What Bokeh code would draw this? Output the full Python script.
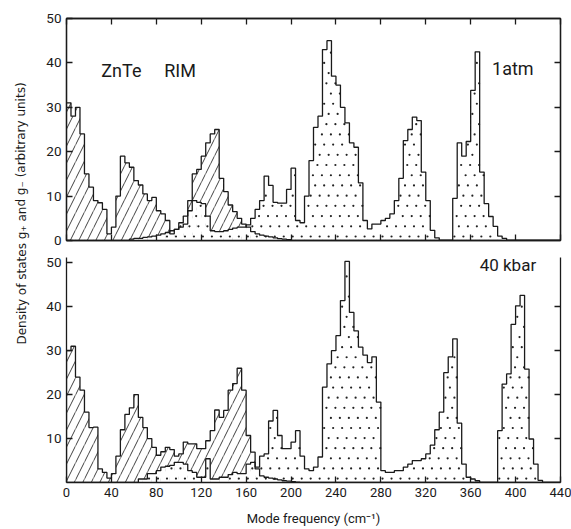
from bokeh.plotting import figure
from bokeh.layouts import row, column
from bokeh.models import Range1d, LinearAxis, FixedTicker, Label
from bokeh.embed import file_html
from bokeh.resources import INLINE

# ---------------- data (histograms, 4 cm^-1 bins from 0 to 440) ----------------
bin_edges = list(range(0, 444, 4))          # 111 edges -> 110 bins
x_ticks = list(range(0, 441, 40))
x_tick_labels = [str(t) for t in x_ticks]
y_ticks_top = [0, 10, 20, 30, 40, 50]
y_ticks_bottom = [10, 20, 30, 40, 50]

# 1 atm : g- (hatched) and g+ (dotted)
gminus_1atm = (
    [31, 28, 30, 24, 15, 12, 9, 8.5, 7, 1.5]
    + [3, 10, 19, 17.5, 16.5, 13.5, 12.5, 10.5, 9, 9.7]
    + [6.7, 6, 4.5, 1.5, 2.5, 3, 3.7, 9, 15, 16]
    + [19, 22, 24, 25, 14, 11, 8, 6.5, 5, 3.7]
    + [3, 2, 1.5, 1.2, 1, 0.8, 0.6, 0.4, 0.3, 0.2]
    + [0] * 60
)
gplus_1atm = (
    [0] * 10
    + [0, 0, 0, 0, 0.3, 0.5, 0.5, 0.7, 0.8, 1]
    + [1.2, 1.5, 1.8, 2.2, 2.5, 4, 5.5, 6.7, 9, 8.6]
    + [8.3, 5.5, 2.2, 2, 2, 2.2, 2.5, 2.8, 3, 3]
    + [3.5, 5, 7, 9, 14.5, 12.4, 8.6, 8.4, 8.4, 11.5]
    + [16.3, 4.5, 4, 10, 18, 25.5, 28, 43, 45, 37]
    + [35, 30, 26.5, 22, 21, 13, 4.5, 2.6, 3.7, 3.7]
    + [4.5, 5, 6, 9, 14, 22.5, 25, 27.8, 27, 15.4]
    + [9, 2.3, 0.6, 0, 0, 0, 9.5, 22, 19, 22.3]
    + [33.8, 42.5, 15.4, 8.3, 5.4, 3.2, 1, 0.5, 0, 0]
    + [0] * 10
)

# 40 kbar : g- (hatched) and g+ (dotted)
gminus_40kbar = (
    [30, 31, 24, 21, 16, 12.5, 12.6, 3.1, 2.3, 1]
    + [2, 6, 12, 15.5, 17, 20, 14.8, 12.5, 10, 8]
    + [6.2, 7, 8, 7.5, 6, 6.5, 9.2, 8.8, 8.8, 7.7]
    + [7.7, 9.5, 11.8, 16.5, 14.8, 16.4, 21, 22.5, 26, 21]
    + [10.7, 6.9, 3.1, 1.5, 1.2, 1, 0.8, 0.6, 0.4, 0.3]
    + [0.2, 0.1] + [0] * 58
)
gplus_40kbar = (
    [0] * 10
    + [0, 0, 0, 0, 0, 0, 0.8, 0.8, 2, 2]
    + [2.7, 3.5, 3.7, 3.9, 4.6, 4.6, 4.2, 2.7, 2.3, 1.2]
    + [1.2, 5.4, 0.8, 0.8, 1.2, 1.2, 1.8, 2.3, 2, 2]
    + [4.2, 4.6, 3.5, 6, 6.5, 14, 16.4, 10.7, 7.7, 7.7]
    + [9.2, 11.8, 6, 3.1, 2.7, 3.5, 5.8, 21.7, 27, 30]
    + [33.4, 41.4, 50.3, 38.7, 34.5, 30.8, 29, 27.3, 28.6, 18.3]
    + [2.7, 2.3, 2.3, 2.7, 2.7, 3.5, 4.2, 5, 5, 5.4]
    + [6.5, 8.5, 12, 16, 25, 28.6, 32.7, 13.5, 4.2, 1.2]
    + [0.8, 0.4, 0, 0, 0, 0, 11.8, 22.4, 24.7, 36]
    + [40.2, 42.6, 25.8, 9.9, 4.2, 0.5, 0, 0, 0, 0]
)

# ---------------- styling ----------------
FONT = "Roboto"
INK = "#1a1a1a"
STIPPLE_DX = 8.0      # stipple spacing along x (cm^-1)
STIPPLE_DY = 2.3      # stipple row spacing (density units)
STIPPLE_SHIFT = [0.0, 4.0, 2.0, 6.0]


def style_axis(ax, label_size="13px"):
    ax.major_tick_in = 6
    ax.major_tick_out = 0
    ax.minor_tick_in = 0
    ax.minor_tick_out = 0
    ax.axis_line_color = INK
    ax.axis_line_width = 1.3
    ax.major_tick_line_color = INK
    ax.major_tick_line_width = 1.3
    ax.major_label_text_font = FONT
    ax.major_label_text_font_size = label_size
    ax.major_label_text_color = INK
    ax.major_label_standoff = 5


def hide_labels(ax):
    # tick marks only: labels are not drawn at all
    ax.major_label_text_color = None
    ax.major_label_text_font_size = "1px"
    ax.major_label_standoff = 0


def blank_axis(ticks):
    ax = LinearAxis(ticker=FixedTicker(ticks=ticks))
    style_axis(ax)
    hide_labels(ax)
    return ax


def stipple_points(vals):
    """Regular staggered stipple inside the area under a histogram."""
    xs, ys = [], []
    r = 0
    y = 0.9
    while y < 52:
        x = 1.5 + STIPPLE_SHIFT[r % 4]
        while x < 440:
            i = int(x // 4)
            if y < vals[i] - 0.6:
                xs.append(x)
                ys.append(y)
            x += STIPPLE_DX
        y += STIPPLE_DY
        r += 1
    return xs, ys


def draw_histograms(p, gminus, gplus):
    left = bin_edges[:-1]
    right = bin_edges[1:]
    p.quad(left=left, right=right, bottom=0, top=gminus,
           fill_color="white", line_color=None,
           hatch_pattern="/", hatch_color="#2a2a2a",
           hatch_scale=17, hatch_weight=0.9)
    p.quad(left=left, right=right, bottom=0, top=gplus,
           fill_color="white", line_color=None)
    sx, sy = stipple_points(gplus)
    p.scatter(x=sx, y=sy, marker="circle", size=2.2, fill_color="#222222",
              line_color=None)
    xs = [bin_edges[0]] + bin_edges
    for vals in (gminus, gplus):
        ys = [0] + list(vals) + [0]
        p.step(x=xs, y=ys, mode="after", line_color=INK, line_width=1.3)


# ---------------- top panel (1 atm) ----------------
top = figure(width=539, height=250, x_range=Range1d(0, 440), y_range=Range1d(0, 50),
             output_backend="svg", toolbar_location=None,
             min_border_left=34, min_border_right=11, min_border_top=18, min_border_bottom=10)
top.grid.visible = False
top.outline_line_color = INK
top.outline_line_width = 1.3
top.background_fill_color = "white"
top.border_fill_color = "white"

draw_histograms(top, gminus_1atm, gplus_1atm)

top.xaxis.ticker = FixedTicker(ticks=x_ticks)
style_axis(top.xaxis[0])
hide_labels(top.xaxis[0])
top.yaxis.ticker = FixedTicker(ticks=y_ticks_top)
style_axis(top.yaxis[0], "13.5px")
top.add_layout(blank_axis(x_ticks), "above")
top.add_layout(blank_axis([10, 20, 30, 40]), "right")

for txt, x, y in (("ZnTe", 31, 38.3), ("RIM", 87, 38.3), ("1atm", 379, 38.7)):
    top.add_layout(Label(x=x, y=y, text=txt, text_font=FONT, text_font_size="18px",
                         text_color=INK, text_baseline="middle", text_align="left"))

# ---------------- bottom panel (40 kbar) ----------------
bot = figure(width=539, height=279, x_range=Range1d(0, 440), y_range=Range1d(0, 51.2),
             output_backend="svg", toolbar_location=None,
             min_border_left=34, min_border_right=11, min_border_top=7, min_border_bottom=47)
bot.grid.visible = False
bot.outline_line_color = None
bot.background_fill_color = "white"
bot.border_fill_color = "white"

draw_histograms(bot, gminus_40kbar, gplus_40kbar)

bot.xaxis.ticker = FixedTicker(ticks=x_ticks)
bot.xaxis.major_label_overrides = {t: s for t, s in zip(x_ticks, x_tick_labels)}
style_axis(bot.xaxis[0], "13px")
bot.xaxis.axis_label = "Mode frequency (cm\u207b\u00b9)"
bot.xaxis.axis_label_text_font = FONT
bot.xaxis.axis_label_text_font_size = "13px"
bot.xaxis.axis_label_text_font_style = "normal"
bot.xaxis.axis_label_text_color = INK
bot.xaxis.axis_label_standoff = 11
bot.yaxis.ticker = FixedTicker(ticks=y_ticks_bottom)
style_axis(bot.yaxis[0], "13.5px")
bot.add_layout(blank_axis([10, 20, 30, 40]), "right")

bot.add_layout(Label(x=368, y=49.4, text="40 kbar", text_font=FONT, text_font_size="17px",
                     text_color=INK, text_baseline="middle", text_align="left"))

# ---------------- shared y-axis title ----------------
lab = figure(width=32, height=529, x_range=Range1d(0, 32), y_range=Range1d(0, 529),
             x_axis_location=None, y_axis_location=None,
             output_backend="svg", toolbar_location=None,
             min_border_left=0, min_border_right=0, min_border_top=0, min_border_bottom=0)
lab.grid.visible = False
lab.outline_line_color = None
lab.add_layout(Label(x=21, y=316, angle=1.5708,
                     text="Density of states g\u208a and g\u208b (arbitrary units)",
                     text_font="DejaVu Sans", text_font_size="12px", text_color=INK,
                     text_align="center", text_baseline="middle"))

layout = row(lab, column(top, bot))
open("out.html", "w").write(file_html(layout, INLINE))
